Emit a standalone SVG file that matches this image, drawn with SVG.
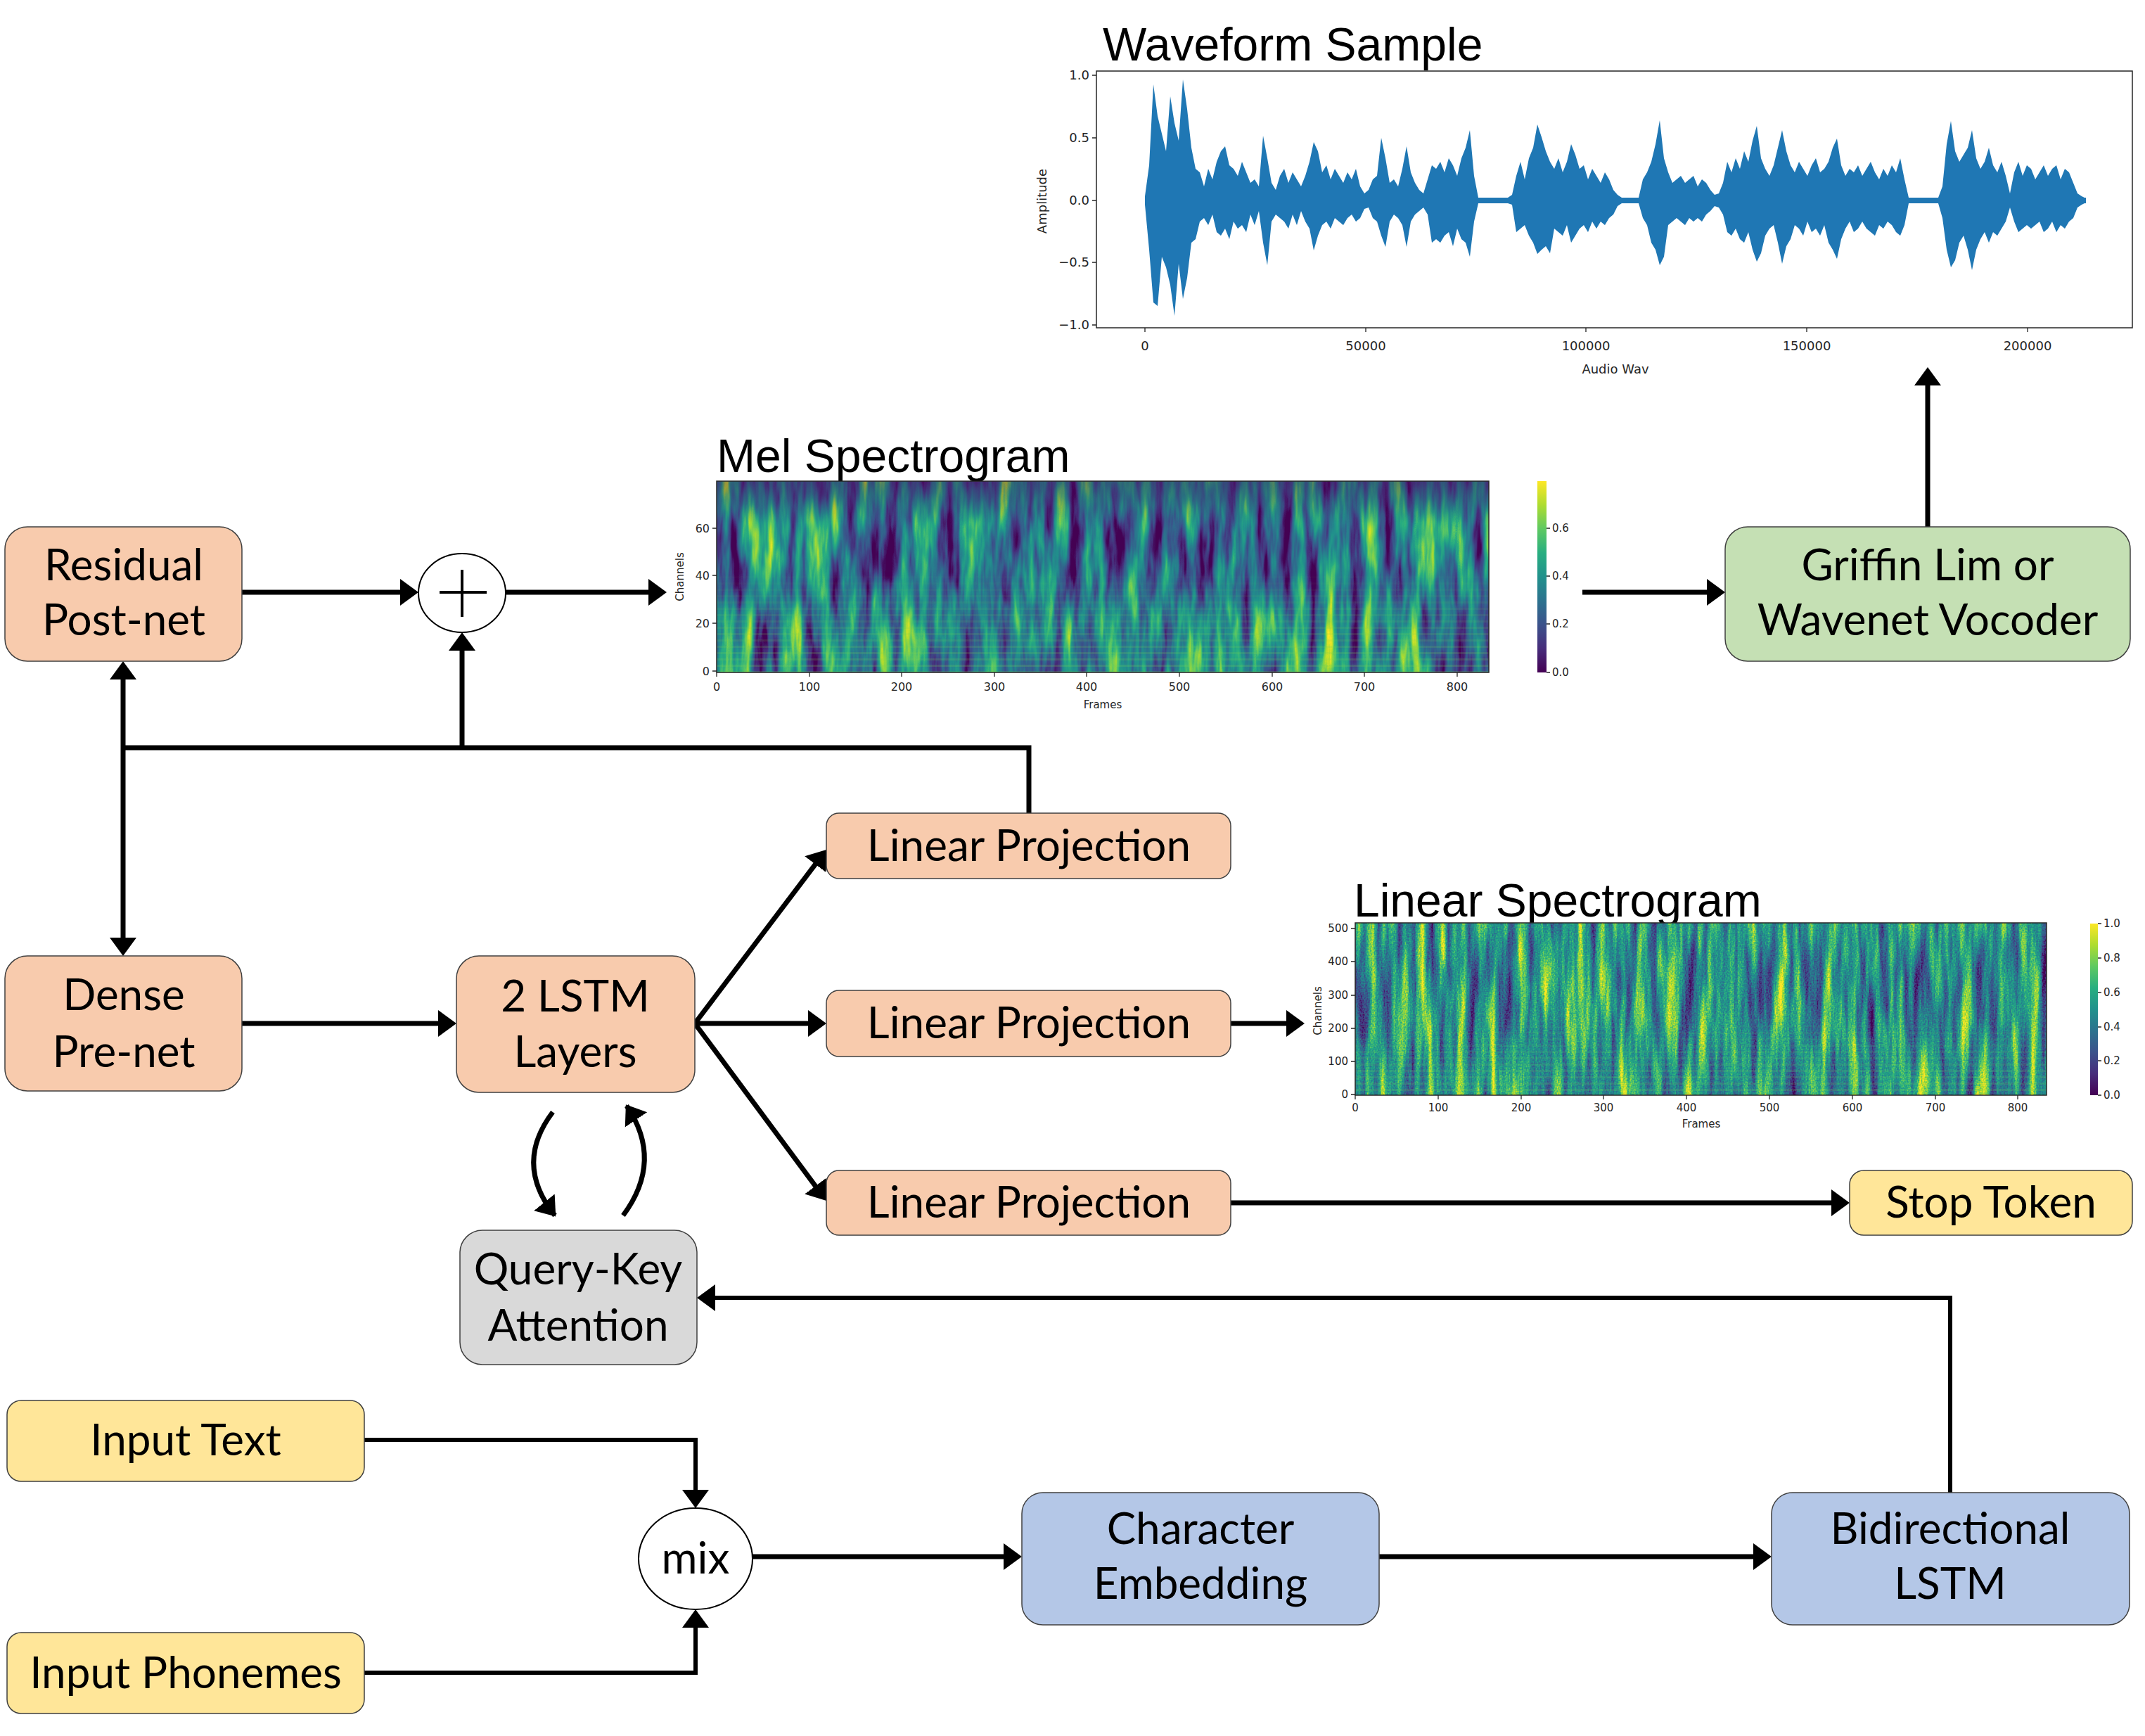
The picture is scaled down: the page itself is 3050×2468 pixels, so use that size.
<svg xmlns="http://www.w3.org/2000/svg" width="3050" height="2468" viewBox="0 0 3050 2468">
<style>
.lbl{font-family:Lato,"Open Sans","Noto Sans",sans-serif;font-size:62px;text-anchor:middle;fill:#000}
.ttl{font-family:"Liberation Sans",Arial,sans-serif;font-size:66px;fill:#000}
.tk{font-family:"DejaVu Sans",sans-serif;fill:#262626}
.node{stroke:#404040;stroke-width:1.5}
.peach{fill:#f8cbad}.gray{fill:#d9d9d9}.yel{fill:#ffe699}.blue{fill:#b4c7e7}.green{fill:#c5e0b4}
.con{fill:none;stroke:#000;stroke-width:7}
.tl{stroke:#262626;stroke-width:1.3}
</style>
<defs>
<marker id="ah" markerUnits="userSpaceOnUse" markerWidth="28" markerHeight="40" refX="18" refY="20" orient="auto"><path d="M0,1 L26,20 L0,39 z" fill="#000"/></marker>
<marker id="ahc" markerUnits="userSpaceOnUse" markerWidth="28" markerHeight="40" refX="24" refY="20" orient="auto"><path d="M0,1 L26,20 L0,39 z" fill="#000"/></marker>
<linearGradient id="vir" x1="0" y1="1" x2="0" y2="0">
<stop offset="0" stop-color="#440154"/><stop offset="0.125" stop-color="#472d7b"/><stop offset="0.25" stop-color="#3b528b"/><stop offset="0.375" stop-color="#2c728e"/><stop offset="0.5" stop-color="#21918c"/><stop offset="0.625" stop-color="#28ae80"/><stop offset="0.75" stop-color="#5ec962"/><stop offset="0.875" stop-color="#addc30"/><stop offset="1" stop-color="#fde725"/>
</linearGradient>
<linearGradient id="topdark" x1="0" y1="0" x2="0" y2="1">
<stop offset="0" stop-color="#440154" stop-opacity="0.35"/><stop offset="0.22" stop-color="#440154" stop-opacity="0"/>
</linearGradient>
<pattern id="harm" patternUnits="userSpaceOnUse" width="40" height="9">
<rect width="40" height="3" fill="#7ad151"/>
</pattern>
<linearGradient id="botfade" x1="0" y1="0" x2="0" y2="1">
<stop offset="0" stop-color="#fff" stop-opacity="0"/><stop offset="1" stop-color="#fff" stop-opacity="1"/>
</linearGradient>
<mask id="mBot" maskContentUnits="objectBoundingBox"><rect x="0" y="0.45" width="1" height="0.55" fill="url(#botfade)"/></mask>
<filter id="fMel" x="0" y="0" width="1" height="1" color-interpolation-filters="sRGB">
<feTurbulence type="fractalNoise" baseFrequency="0.05 0.007" numOctaves="4" seed="11" result="n"/>
<feColorMatrix in="n" type="matrix" values="1.5 0 0 0 -0.33  1.5 0 0 0 -0.33  1.5 0 0 0 -0.33  0 0 0 0 1"/>
<feComponentTransfer>
<feFuncR type="table" tableValues="0.267 0.278 0.231 0.173 0.129 0.157 0.369 0.678 0.992"/>
<feFuncG type="table" tableValues="0.004 0.176 0.322 0.447 0.569 0.682 0.788 0.863 0.906"/>
<feFuncB type="table" tableValues="0.329 0.482 0.545 0.557 0.549 0.502 0.384 0.188 0.145"/>
</feComponentTransfer>
</filter>
<filter id="fLin" x="0" y="0" width="1" height="1" color-interpolation-filters="sRGB">
<feTurbulence type="fractalNoise" baseFrequency="0.07 0.006" numOctaves="4" seed="4" result="a"/>
<feColorMatrix in="a" type="matrix" values="1 0 0 0 0  1 0 0 0 0  1 0 0 0 0  0 0 0 0 1" result="a1"/>
<feTurbulence type="fractalNoise" baseFrequency="0.5 0.45" numOctaves="1" seed="9" result="b"/>
<feColorMatrix in="b" type="matrix" values="1 0 0 0 0  1 0 0 0 0  1 0 0 0 0  0 0 0 0 1" result="b1"/>
<feComposite in="a1" in2="b1" operator="arithmetic" k1="0" k2="0.85" k3="0.3" k4="0" result="c"/>
<feColorMatrix in="c" type="matrix" values="1.7 0 0 0 -0.45  1.7 0 0 0 -0.45  1.7 0 0 0 -0.45  0 0 0 0 1"/>
<feComponentTransfer>
<feFuncR type="table" tableValues="0.267 0.278 0.231 0.173 0.129 0.157 0.369 0.678 0.992"/>
<feFuncG type="table" tableValues="0.004 0.176 0.322 0.447 0.569 0.682 0.788 0.863 0.906"/>
<feFuncB type="table" tableValues="0.329 0.482 0.545 0.557 0.549 0.502 0.384 0.188 0.145"/>
</feComponentTransfer>
</filter>
</defs>
<rect width="3050" height="2468" fill="#fff"/>

<!-- Waveform plot -->
<g id="waveform">
<text class="ttl" x="1568" y="86">Waveform Sample</text>
<rect x="1559" y="101" width="1473" height="365" fill="#fff" stroke="#262626" stroke-width="1.5"/>
<rect x="1628" y="281" width="1338" height="8" fill="#1f77b4"/>
<path fill="#1f77b4" d="M1628 287L1628 279L1634 235L1640 120L1646 165L1652 190L1658 215L1664 137L1670 175L1676 200L1682 113L1688 155L1694 210L1700 240L1706 245L1712 265L1718 240L1724 255L1730 230L1736 215L1742 208L1748 235L1754 240L1760 250L1766 230L1772 245L1778 260L1784 255L1790 265L1796 193L1802 225L1808 260L1814 270L1820 250L1826 240L1832 260L1838 245L1844 255L1850 265L1856 250L1862 230L1868 202L1874 215L1880 245L1886 235L1892 255L1898 240L1904 250L1910 260L1916 245L1922 255L1928 240L1934 265L1940 275L1946 270L1952 255L1958 250L1964 196L1970 225L1976 260L1982 255L1988 265L1994 240L2000 208L2006 245L2012 260L2018 270L2024 275L2030 255L2036 235L2042 240L2048 230L2054 245L2060 225L2066 235L2072 250L2078 225L2084 210L2090 185L2096 250L2102 281L2144 281L2150 277L2156 250L2162 230L2168 255L2174 225L2180 210L2186 177L2192 195L2198 215L2204 230L2210 240L2216 225L2222 245L2228 230L2234 205L2240 220L2246 240L2252 235L2258 255L2264 240L2270 250L2276 260L2282 245L2288 255L2294 270L2300 277L2306 281L2330 281L2336 255L2342 245L2348 230L2354 205L2360 171L2366 225L2372 245L2378 260L2384 255L2390 250L2396 260L2402 255L2408 250L2414 265L2420 255L2426 260L2432 270L2438 277L2444 275L2450 260L2456 230L2462 245L2468 225L2474 240L2480 215L2486 230L2492 200L2498 179L2504 225L2510 240L2516 250L2522 235L2528 210L2534 185L2540 215L2546 235L2552 245L2558 230L2564 240L2570 250L2576 235L2582 225L2588 245L2594 240L2600 230L2606 210L2612 197L2618 235L2624 250L2630 240L2636 245L2642 235L2648 250L2654 240L2660 230L2666 245L2672 255L2678 240L2684 250L2690 235L2696 245L2702 225L2708 255L2714 281L2756 281L2762 265L2768 205L2774 172L2780 215L2786 230L2792 220L2798 210L2804 185L2810 225L2816 240L2822 230L2828 210L2834 235L2840 245L2846 230L2852 250L2858 275L2864 245L2870 230L2876 250L2882 235L2888 240L2894 255L2900 245L2906 235L2912 250L2918 240L2924 235L2930 255L2936 240L2942 245L2948 260L2954 275L2960 279L2966 282L2966 287Z"/>
<path fill="#1f77b4" d="M1628 283L1628 291L1634 355L1640 430L1646 435L1652 365L1658 380L1664 405L1670 449L1676 375L1682 425L1688 395L1694 345L1700 340L1706 315L1712 310L1718 320L1724 305L1730 330L1736 335L1742 325L1748 340L1754 315L1760 325L1766 320L1772 330L1778 305L1784 320L1790 300L1796 345L1802 377L1808 315L1814 305L1820 310L1826 315L1832 325L1838 305L1844 320L1850 300L1856 315L1862 325L1868 356L1874 335L1880 320L1886 315L1892 325L1898 310L1904 315L1910 320L1916 310L1922 305L1928 315L1934 310L1940 297L1946 295L1952 310L1958 315L1964 335L1970 351L1976 315L1982 305L1988 310L1994 320L2000 351L2006 315L2012 305L2018 300L2024 295L2030 305L2036 345L2042 340L2048 345L2054 335L2060 330L2066 350L2072 325L2078 340L2084 345L2090 365L2096 315L2102 289L2144 289L2150 291L2156 330L2162 325L2168 320L2174 335L2180 345L2186 361L2192 355L2198 350L2204 360L2210 325L2216 330L2222 335L2228 320L2234 345L2240 335L2246 325L2252 320L2258 330L2264 315L2270 325L2276 315L2282 320L2288 310L2294 305L2300 293L2306 289L2330 289L2336 310L2342 320L2348 345L2354 355L2360 377L2366 365L2372 320L2378 315L2384 310L2390 315L2396 320L2402 310L2408 315L2414 310L2420 315L2426 305L2432 300L2438 293L2444 295L2450 305L2456 330L2462 335L2468 325L2474 340L2480 345L2486 330L2492 355L2498 372L2504 360L2510 335L2516 325L2522 320L2528 345L2534 375L2540 350L2546 340L2552 320L2558 325L2564 335L2570 315L2576 330L2582 325L2588 335L2594 320L2600 345L2606 355L2612 368L2618 340L2624 325L2630 315L2636 330L2642 325L2648 315L2654 325L2660 330L2666 335L2672 320L2678 325L2684 315L2690 320L2696 330L2702 335L2708 320L2714 289L2756 289L2762 310L2768 355L2774 380L2780 370L2786 345L2792 335L2798 355L2804 384L2810 355L2816 340L2822 330L2828 345L2834 330L2840 335L2846 325L2852 315L2858 295L2864 315L2870 330L2876 325L2882 320L2888 325L2894 320L2900 315L2906 330L2912 325L2918 315L2924 330L2930 320L2936 325L2942 315L2948 310L2954 295L2960 291L2966 288L2966 283Z"/>
<g class="tl">
<path d="M1553 107H1559M1553 196H1559M1553 285H1559M1553 373H1559M1553 462H1559M1628 466V472M1942 466V472M2255 466V472M2569 466V472M2883 466V472"/>
</g>
<g class="tk" font-size="18" text-anchor="end">
<text x="1549" y="113">1.0</text><text x="1549" y="202">0.5</text><text x="1549" y="291">0.0</text><text x="1549" y="379">−0.5</text><text x="1549" y="468">−1.0</text>
</g>
<g class="tk" font-size="18" text-anchor="middle">
<text x="1628" y="498">0</text><text x="1942" y="498">50000</text><text x="2255" y="498">100000</text><text x="2569" y="498">150000</text><text x="2883" y="498">200000</text>
<text x="2297" y="531">Audio Wav</text>
<text transform="translate(1488,286) rotate(-90)">Amplitude</text>
</g>
</g>

<!-- Mel spectrogram -->
<g id="mel-spectrogram">
<text class="ttl" x="1019" y="671" font-size="67">Mel Spectrogram</text>
<rect x="1019" y="684" width="1098" height="272" fill="#21918c" filter="url(#fMel)"/>
<rect x="1019" y="684" width="1098" height="272" fill="url(#harm)" opacity="0.22" mask="url(#mBot)"/>
<rect x="1019" y="684" width="1098" height="272" fill="url(#topdark)"/>
<rect x="1019" y="684" width="1098" height="272" fill="none" stroke="#262626" stroke-width="1.5"/>
<rect x="2186" y="684" width="13" height="272" fill="url(#vir)"/>
<g class="tl"><path d="M1013 954H1019M1013 886H1019M1013 818H1019M1013 751H1019M1019 956V962M1151 956V962M1282 956V962M1414 956V962M1545 956V962M1677 956V962M1809 956V962M1940 956V962M2072 956V962M2199 956H2204M2199 887H2204M2199 819H2204M2199 751H2204"/></g>
<g class="tk" font-size="16" text-anchor="end">
<text x="1009" y="960">0</text><text x="1009" y="892">20</text><text x="1009" y="824">40</text><text x="1009" y="757">60</text>
</g>
<g class="tk" font-size="16" text-anchor="middle">
<text x="1019" y="982">0</text><text x="1151" y="982">100</text><text x="1282" y="982">200</text><text x="1414" y="982">300</text><text x="1545" y="982">400</text><text x="1677" y="982">500</text><text x="1809" y="982">600</text><text x="1940" y="982">700</text><text x="2072" y="982">800</text>
<text x="1568" y="1007" font-size="15">Frames</text>
<text transform="translate(972,820) rotate(-90)" font-size="15">Channels</text>
</g>
<g class="tk" font-size="15">
<text x="2207" y="961">0.0</text><text x="2207" y="892">0.2</text><text x="2207" y="824">0.4</text><text x="2207" y="756">0.6</text>
</g>
</g>

<!-- Linear spectrogram -->
<g id="linear-spectrogram">
<text class="ttl" x="1925" y="1303" font-size="67">Linear Spectrogram</text>
<rect x="1927" y="1312" width="983" height="245" fill="#21918c" filter="url(#fLin)"/>
<rect x="1927" y="1312" width="983" height="245" fill="url(#harm)" opacity="0.18" mask="url(#mBot)"/>
<rect x="1927" y="1312" width="983" height="245" fill="none" stroke="#262626" stroke-width="1.5"/>
<rect x="2972" y="1313" width="11" height="244" fill="url(#vir)"/>
<g class="tl"><path d="M1921 1556H1927M1921 1509H1927M1921 1462H1927M1921 1415H1927M1921 1367H1927M1921 1320H1927M1927 1557V1563M2045 1557V1563M2163 1557V1563M2280 1557V1563M2398 1557V1563M2516 1557V1563M2634 1557V1563M2752 1557V1563M2869 1557V1563M2983 1557H2988M2983 1508H2988M2983 1460H2988M2983 1411H2988M2983 1362H2988M2983 1313H2988"/></g>
<g class="tk" font-size="15" text-anchor="end">
<text x="1917" y="1561">0</text><text x="1917" y="1514">100</text><text x="1917" y="1467">200</text><text x="1917" y="1420">300</text><text x="1917" y="1372">400</text><text x="1917" y="1325">500</text>
</g>
<g class="tk" font-size="15" text-anchor="middle">
<text x="1927" y="1580">0</text><text x="2045" y="1580">100</text><text x="2163" y="1580">200</text><text x="2280" y="1580">300</text><text x="2398" y="1580">400</text><text x="2516" y="1580">500</text><text x="2634" y="1580">600</text><text x="2752" y="1580">700</text><text x="2869" y="1580">800</text>
<text x="2419" y="1603">Frames</text>
<text transform="translate(1879,1437) rotate(-90)">Channels</text>
</g>
<g class="tk" font-size="15">
<text x="2991" y="1562">0.0</text><text x="2991" y="1513">0.2</text><text x="2991" y="1465">0.4</text><text x="2991" y="1416">0.6</text><text x="2991" y="1367">0.8</text><text x="2991" y="1318">1.0</text>
</g>
</g>

<!-- Connectors -->
<g id="connectors" class="con">
<path d="M344 842H587" marker-end="url(#ah)"/>
<path d="M719 842H940" marker-end="url(#ah)"/>
<path d="M2250 842H2445" marker-end="url(#ah)"/>
<path d="M2741 749V530" marker-end="url(#ah)"/>
<path d="M1463 1156V1063H175"/>
<path d="M175 1063V948" marker-end="url(#ah)"/>
<path d="M175 1063V1351" marker-end="url(#ah)"/>
<path d="M657 1063V907" marker-end="url(#ah)"/>
<path d="M344 1455H641" marker-end="url(#ah)"/>
<path d="M988 1455L1170.2 1214.4" marker-end="url(#ah)"/>
<path d="M988 1455H1167" marker-end="url(#ah)"/>
<path d="M988 1455L1170.2 1700.6" marker-end="url(#ah)"/>
<path d="M1750 1455H1847" marker-end="url(#ah)"/>
<path d="M1750 1710H2622" marker-end="url(#ah)"/>
<path d="M786 1581Q730 1655 789 1728" marker-end="url(#ahc)"/>
<path d="M886 1728Q944 1650 891 1572" marker-end="url(#ahc)"/>
<path d="M2773 2122V1845H999" stroke-width="6" marker-end="url(#ah)"/>
<path d="M518 2047H989V2136" stroke-width="6" marker-end="url(#ah)"/>
<path d="M518 2378H989V2296" stroke-width="6" marker-end="url(#ah)"/>
<path d="M1070 2213H1445" marker-end="url(#ah)"/>
<path d="M1961 2213H2511" marker-end="url(#ah)"/>
</g>

<!-- Nodes -->
<g id="residual-postnet">
<rect class="node peach" x="7" y="749" width="337" height="191" rx="32"/>
<text class="lbl" x="176" y="825">Residual</text>
<text class="lbl" x="176" y="903">Post-net</text>
</g>
<g id="plus">
<ellipse cx="657" cy="843" rx="62" ry="56" fill="#fff" stroke="#000" stroke-width="2"/>
<path d="M625 842H692M657 810V877" stroke="#000" stroke-width="4"/>
</g>
<g id="griffin-lim">
<rect class="node green" x="2453" y="749" width="576" height="191" rx="32"/>
<text class="lbl" x="2741" y="825">Griffin Lim or</text>
<text class="lbl" x="2741" y="903">Wavenet Vocoder</text>
</g>
<g id="dense-prenet">
<rect class="node peach" x="7" y="1359" width="337" height="192" rx="32"/>
<text class="lbl" x="176" y="1436">Dense</text>
<text class="lbl" x="176" y="1517">Pre-net</text>
</g>
<g id="lstm-layers">
<rect class="node peach" x="649" y="1359" width="339" height="194" rx="32"/>
<text class="lbl" x="818" y="1438">2 LSTM</text>
<text class="lbl" x="818" y="1517">Layers</text>
</g>
<g id="query-key-attention">
<rect class="node gray" x="654" y="1749" width="337" height="191" rx="32"/>
<text class="lbl" x="822" y="1826">Query-Key</text>
<text class="lbl" x="822" y="1906">Attention</text>
</g>
<g id="linear-projection-1">
<rect class="node peach" x="1175" y="1156" width="575" height="93" rx="18"/>
<text class="lbl" x="1463" y="1224">Linear Projection</text>
</g>
<g id="linear-projection-2">
<rect class="node peach" x="1175" y="1408" width="575" height="94" rx="18"/>
<text class="lbl" x="1463" y="1476">Linear Projection</text>
</g>
<g id="linear-projection-3">
<rect class="node peach" x="1175" y="1664" width="575" height="92" rx="18"/>
<text class="lbl" x="1463" y="1731">Linear Projection</text>
</g>
<g id="stop-token">
<rect class="node yel" x="2630" y="1664" width="402" height="92" rx="20"/>
<text class="lbl" x="2831" y="1731">Stop Token</text>
</g>
<g id="input-text">
<rect class="node yel" x="10" y="1991" width="508" height="115" rx="20"/>
<text class="lbl" x="264" y="2069">Input Text</text>
</g>
<g id="input-phonemes">
<rect class="node yel" x="10" y="2321" width="508" height="115" rx="20"/>
<text class="lbl" x="264" y="2400">Input Phonemes</text>
</g>
<g id="mix">
<ellipse cx="989" cy="2216" rx="81" ry="72" fill="#fff" stroke="#000" stroke-width="2"/>
<text class="lbl" x="989" y="2237">mix</text>
</g>
<g id="character-embedding">
<rect class="node blue" x="1453" y="2122" width="508" height="188" rx="30"/>
<text class="lbl" x="1707" y="2195">Character</text>
<text class="lbl" x="1707" y="2273">Embedding</text>
</g>
<g id="bidirectional-lstm">
<rect class="node blue" x="2519" y="2122" width="509" height="188" rx="30"/>
<text class="lbl" x="2773" y="2195">Bidirectional</text>
<text class="lbl" x="2773" y="2273">LSTM</text>
</g>
</svg>
